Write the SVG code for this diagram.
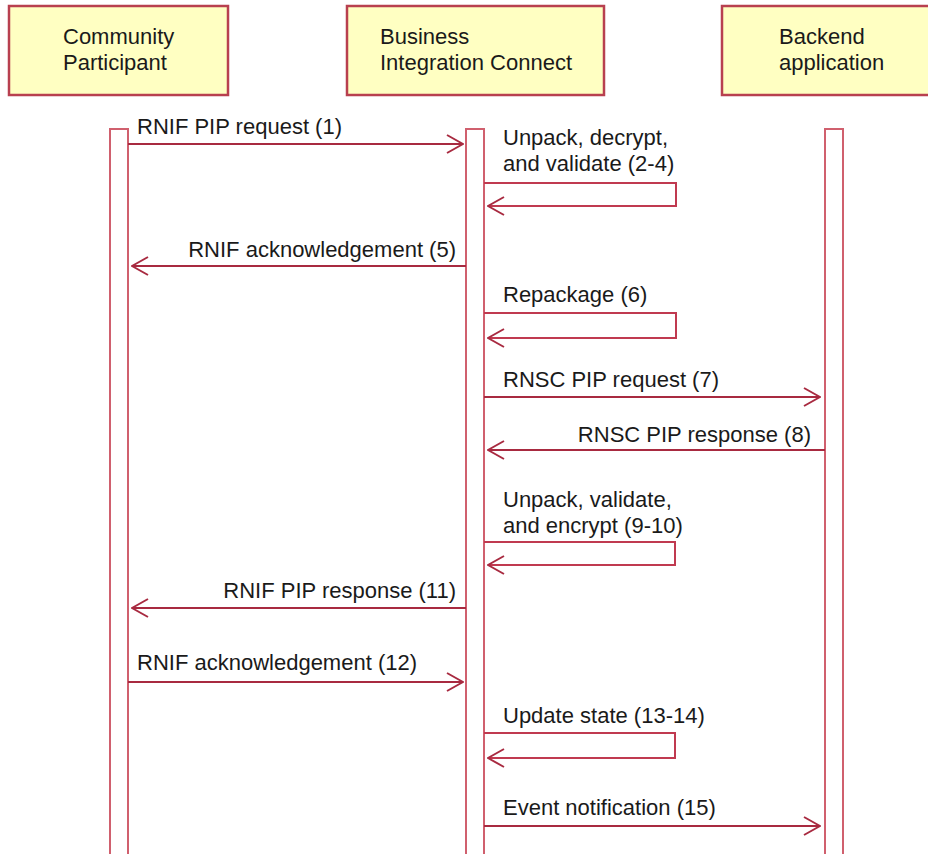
<svg xmlns="http://www.w3.org/2000/svg" width="928" height="854" viewBox="0 0 928 854">
  <style>
    .box { fill: #FFFFC2; stroke: #B8404F; stroke-width: 2.5; }
    .life { fill: #FFFFFF; stroke: #D0606E; stroke-width: 2; }
    .msg { fill: none; stroke: #A82A40; stroke-width: 2; }
    .loop { fill: none; stroke: #C03A50; stroke-width: 2; }
    text { font-family: "Liberation Sans", Arial, sans-serif; font-size: 22px; fill: #1A1A1A; }
    .end { text-anchor: end; }
  </style>
  <defs>
    <marker id="open" viewBox="0 0 18 20" refX="17" refY="10" markerWidth="18" markerHeight="20" markerUnits="userSpaceOnUse" orient="auto">
      <path d="M1,1 L17,10 L1,19" fill="none" stroke="#A82A40" stroke-width="2"/>
    </marker>
  </defs>

  <!-- participants -->
  <g id="community-participant">
    <rect class="box" x="9" y="6" width="219" height="89"/>
    <text x="63" y="44">Community</text>
    <text x="63" y="70">Participant</text>
    <rect class="life" x="110" y="129" width="18" height="730"/>
  </g>
  <g id="business-integration-connect">
    <rect class="box" x="347" y="6" width="257" height="89"/>
    <text x="380" y="44">Business</text>
    <text x="380" y="70">Integration Connect</text>
    <rect class="life" x="466" y="129" width="18" height="730"/>
  </g>
  <g id="backend-application">
    <rect class="box" x="722" y="6" width="210" height="89"/>
    <text x="779" y="44">Backend</text>
    <text x="779" y="70">application</text>
    <rect class="life" x="825" y="129" width="18" height="730"/>
  </g>

  <!-- messages -->
  <g id="connectors">
    <path class="msg" d="M128,144 H463" marker-end="url(#open)"/>
    <text x="137" y="134">RNIF PIP request (1)</text>

    <path class="loop" d="M484,183 H676 V206 H488" marker-end="url(#open)"/>
    <text x="503" y="145">Unpack, decrypt,</text>
    <text x="503" y="171">and validate (2-4)</text>

    <path class="msg" d="M466,266 H132" marker-end="url(#open)"/>
    <text class="end" x="456" y="257">RNIF acknowledgement (5)</text>

    <path class="loop" d="M484,313 H676 V338 H488" marker-end="url(#open)"/>
    <text x="503" y="302">Repackage (6)</text>

    <path class="msg" d="M484,397 H820" marker-end="url(#open)"/>
    <text x="503" y="387">RNSC PIP request (7)</text>

    <path class="msg" d="M825,450 H488" marker-end="url(#open)"/>
    <text class="end" x="811" y="442">RNSC PIP response (8)</text>

    <path class="loop" d="M484,542 H675 V565 H488" marker-end="url(#open)"/>
    <text x="503" y="507">Unpack, validate,</text>
    <text x="503" y="533">and encrypt (9-10)</text>

    <path class="msg" d="M466,608 H132" marker-end="url(#open)"/>
    <text class="end" x="456" y="598">RNIF PIP response (11)</text>

    <path class="msg" d="M128,682 H463" marker-end="url(#open)"/>
    <text x="137" y="670">RNIF acknowledgement (12)</text>

    <path class="loop" d="M484,733 H675 V758 H488" marker-end="url(#open)"/>
    <text x="503" y="723">Update state (13-14)</text>

    <path class="msg" d="M484,826 H820" marker-end="url(#open)"/>
    <text x="503" y="815">Event notification (15)</text>
  </g>
</svg>
